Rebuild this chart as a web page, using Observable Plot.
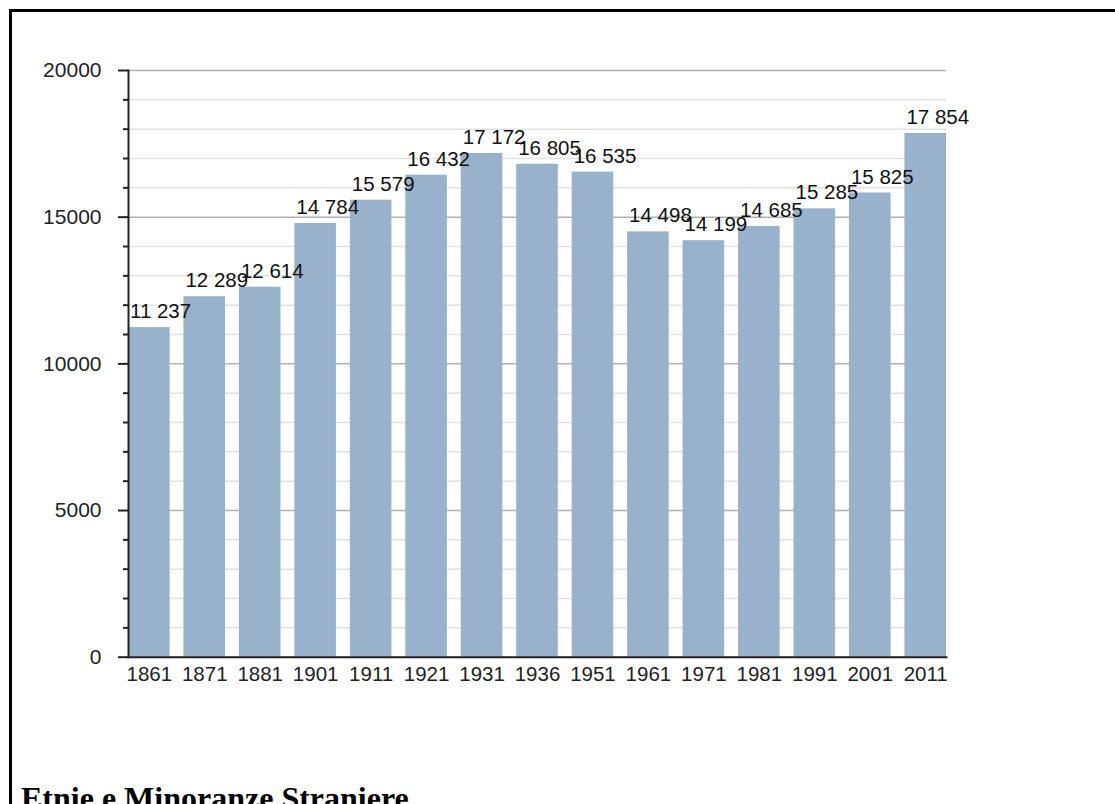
<!DOCTYPE html>
<html>
<head>
<meta charset="utf-8">
<script src="https://cdn.jsdelivr.net/npm/d3@7"></script>
<script src="https://cdn.jsdelivr.net/npm/@observablehq/plot@0.6"></script>
<style>
  html, body { margin: 0; padding: 0; background: #fff; overflow: hidden; width: 1115px; height: 804px; }
  #frame { position: absolute; left: 9px; top: 9px; width: 1200px; height: 1200px; border: 3px solid #000; box-sizing: border-box; }
  #chart { position: absolute; left: 0; top: 0; }
  h1 { position: absolute; left: 21px; top: 780px; margin: 0; font-family: "Liberation Serif", "Times New Roman", serif; font-weight: bold; font-size: 32px; line-height: normal; color: #000; white-space: nowrap; }
</style>
</head>
<body>
<div id="frame"></div>
<div id="chart"></div>
<h1>Etnie e Minoranze Straniere</h1>
<script>
const years = ["1861","1871","1881","1901","1911","1921","1931","1936","1951","1961","1971","1981","1991","2001","2011"];
const population = [11237, 12289, 12614, 14784, 15579, 16432, 17172, 16805, 16535, 14498, 14199, 14685, 15285, 15825, 17854];
const majorTicks = [0, 5000, 10000, 15000, 20000];
const minorTicks = [1000,2000,3000,4000,6000,7000,8000,9000,11000,12000,13000,14000,16000,17000,18000,19000];

const data = years.map((y, i) => ({year: y, value: population[i], label: d3.format(",")(population[i]).replace(/,/g, " ")}));

const W = 1115, H = 720;
const plot = Plot.plot({
  width: W,
  height: H,
  marginLeft: 128,
  marginRight: 169,
  marginTop: 70,
  marginBottom: H - 656.7,
  style: { fontFamily: "'Liberation Sans', Arial, sans-serif", fontSize: "20px", color: "#222", background: "transparent" },
  x: { type: "band", domain: years, paddingInner: 0.25, paddingOuter: 0, round: false, label: null },
  y: { domain: [0, 20000], label: null },
  marks: [
    Plot.ruleY(minorTicks, { stroke: "#e2e2e2", strokeWidth: 1.5 }),
    Plot.ruleY(majorTicks, { stroke: "#b2b2b2", strokeWidth: 1.5 }),
    Plot.barY(data, { x: "year", y: "value", fill: "#99b2cc" }),
    Plot.text(data, { x: "year", y: "value", text: "label", textAnchor: "start", dx: -19.3, dy: -16, fontSize: 20.5, fill: "#111" }),
    Plot.axisY({ ticks: minorTicks, tickSize: 5, tickFormat: () => "", label: null, stroke: "#222", strokeWidth: 2 }),
    Plot.axisY({ ticks: majorTicks, tickSize: 10, tickPadding: 17, tickFormat: d => String(d), label: null, stroke: "#222", strokeWidth: 2, fontSize: 21 }),
    Plot.axisX({ tickSize: 0, tickPadding: 9, label: null, fontSize: 20.5 }),
    Plot.frame({ anchor: "left", stroke: "#222", strokeWidth: 2 }),
    Plot.frame({ anchor: "bottom", stroke: "#222", strokeWidth: 2 })
  ]
});
document.getElementById("chart").appendChild(plot);
</script>
</body>
</html>
